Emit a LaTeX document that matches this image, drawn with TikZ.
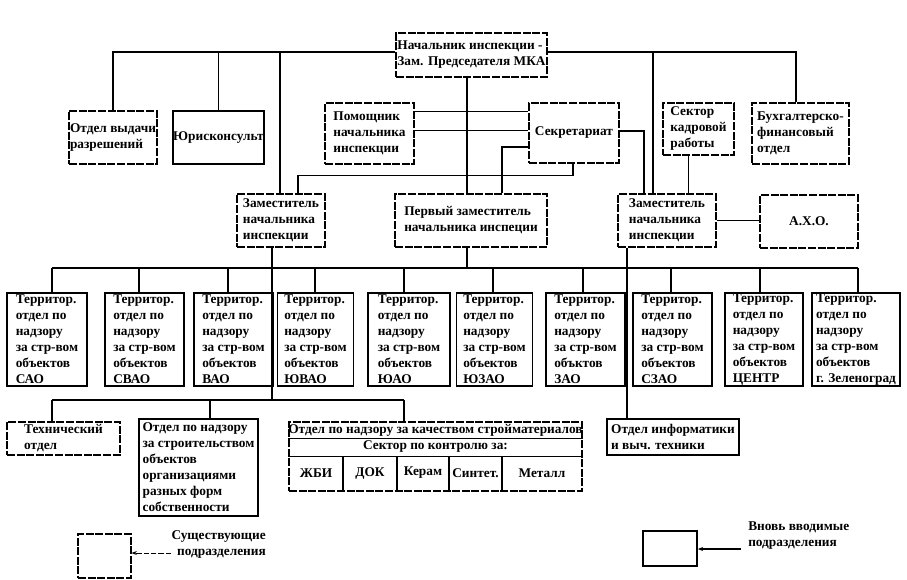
\documentclass[tikz,border=0pt]{standalone}
\usepackage{fontspec}
\setmainfont{Liberation Serif}
\usetikzlibrary{arrows.meta,calc}
\newcommand\terrtxt[2]{Территор.\\отдел по\\надзору\\за стр-вом\\#1\\#2}
\begin{document}
\begin{tikzpicture}[x=0.75pt,y=-0.75pt,
  every node/.style={font=\fontsize{10}{12}\selectfont\bfseries, text=black},
  sz/.style 2 args={minimum width=#1*0.75pt, minimum height=#2*0.75pt},
  old/.style={draw, line width=0.8pt, dash pattern=on 6pt off 1.2pt, inner sep=0pt, align=left},
  new/.style={draw, line width=1.2pt, inner sep=0pt, align=left},
  terr/.style={new, minimum height=93*0.75pt},
  wire/.style={line width=1.05pt},
  tip/.style={-{Stealth[length=4pt,width=3pt]}}]
\useasboundingbox (0,0) rectangle (907,579);
\fill[white] (0,0) rectangle (907,579);

% top level
\node[old,sz={151}{44}] (head) at (471.5,55) {Начальник инспекции -\\Зам. Председателя МКА};
\node[old,sz={88}{53}] (vyd) at (113,137.5) {Отдел выдачи\\разрешений};
\node[new,sz={89}{53}] (yur) at (218.5,137.5) {Юрисконсульт};
\node[old,sz={89}{61}] (pom) at (369.5,133.5) {Помощник\\начальника\\инспекции};
\node[old,sz={90}{60}] (sekr) at (574,133) {Секретариат};
\node[old,sz={71}{52}] (kadr) at (698.5,129) {Сектор\\кадровой\\работы};
\node[old,sz={97}{61}] (buh) at (800.5,133.5) {Бухгалтерско-\\финансовый\\отдел};

% deputies
\node[old,sz={88}{53}] (zamL) at (281,220.5) {Заместитель\\начальника\\инспекции};
\node[old,sz={152}{53}] (first) at (471,220.5) {Первый заместитель\\начальника инспеции};
\node[old,sz={98}{53}] (zamR) at (667,220.5) {Заместитель\\начальника\\инспекции};
\node[old,sz={98}{53}] (axo) at (809,221.5) {А.Х.О.};

% territorial departments
\node[terr,minimum width=80*0.75pt] (t1) at (47,339.5) {\terrtxt{объектов}{САО}};
\node[terr,minimum width=79*0.75pt] (t2) at (144.5,339.5) {\terrtxt{объектов}{СВАО}};
\node[terr,minimum width=79*0.75pt] (t3) at (233.5,339.5) {\terrtxt{объектов}{ВАО}};
\node[terr,minimum width=76*0.75pt] (t4) at (315.5,339.5) {\terrtxt{объектов}{ЮВАО}};
\node[terr,minimum width=82*0.75pt] (t5) at (409,339.5) {\terrtxt{объектов}{ЮАО}};
\node[terr,minimum width=76*0.75pt] (t6) at (494.5,339.5) {\terrtxt{объектов}{ЮЗАО}};
\node[terr,minimum width=79*0.75pt] (t7) at (585.5,339.5) {\terrtxt{объктов}{ЗАО}};
\node[terr,minimum width=79*0.75pt] (t8) at (672.5,339.5) {\terrtxt{объектов}{СЗАО}};
\node[terr,minimum width=78*0.75pt] (t9) at (764,339.5) {\terrtxt{объектов}{ЦЕНТР}};
\node[terr,minimum width=88*0.75pt] (t10) at (856,339.5) {\terrtxt{объектов}{г. Зеленоград}};

% bottom level
\node[old,sz={113}{33}] (tech) at (63.5,438.5) {Технический\\отдел};
\node[new,sz={119}{97}] (nadz) at (198.5,467.5) {Отдел по надзору\\за строительством\\объектов\\организациями\\разных форм\\собственности};
\node[old,sz={293}{69}] (stroy) at (435.5,456.5) {};
\node (st1) at (435.5,432) {\underline{Отдел по надзору за качеством стройматериалов}};
\node (st2) at (435.5,446) {Сектор по контролю за:};
\draw[wire] (stroy.west) -- (stroy.east);
\foreach \x in {343,397,449,502} \draw[wire] (\x,456.5) -- (\x,491);
\node (c1) at (316,473) {ЖБИ};
\node (c2) at (370,473) {ДОК};
\node (c3) at (423,473) {Керам};
\node (c4) at (475.5,473) {Синтет.};
\node (c5) at (542,473) {Металл};
\node[new,sz={132}{36}] (info) at (673,437) {Отдел информатики\\и выч. техники};

% legend
\node[old,sz={53}{44}] (legE) at (104.5,556) {};
\node[new,sz={54}{35}] (legN) at (670,548.5) {};
\node[align=right, anchor=east, inner sep=0pt] (legEt) at (266,544.5) {Существующие\\подразделения};
\node[align=left, anchor=west, inner sep=0pt] (legNt) at (748,535.5) {Вновь вводимые\\подразделения};
\coordinate (la) at (171,553);
\draw[line width=0.7pt, dash pattern=on 4pt off 1.5pt, tip] (la) -- (la -| legE.east);
\coordinate (ra) at (741,549);
\draw[wire, tip] (ra) -- (ra -| legN.east);

% connectors from the head
\coordinate (hl) at ($(head.west)+(0,-3)$);
\coordinate (hr) at ($(head.east)+(0,-3)$);
\draw[wire] (vyd.north) |- (hl);
\draw[wire] (yur.north) -- (yur.north |- hl);
\coordinate (zl1) at ($(zamL.north)+(-1,0)$);
\draw[wire] (zl1) -- (zl1 |- hl);
\draw[wire] (hr) -| ($(buh.north)+(-4.5,0)$);
\coordinate (zr1) at ($(zamR.north)+(-14,0)$);
\draw[wire] (zr1) -- (zr1 |- hr);
\coordinate (hs) at ($(head.south)+(-4.5,0)$);
\draw[wire] (hs) -- (hs |- first.north);

% assistant and secretariat
\coordinate (p1) at ($(pom.east)+(0,-22)$);
\draw[wire] (p1) -- (p1 -| sekr.west);
\coordinate (p2) at ($(pom.east)+(0,-3)$);
\draw[wire] (p2) -- (p2 -| sekr.west);
\coordinate (s1) at ($(sekr.west)+(0,14)$);
\draw[wire] (s1) -| ($(first.north)+(31,0)$);
\coordinate (s2) at ($(sekr.south)+(-1,0)$);
\draw[wire] (s2) -- ++(0,12) -| ($(zamL.north)+(17,0)$);
\coordinate (s3) at ($(sekr.east)+(0,-2)$);
\draw[wire] (s3) -| ($(zamR.north)+(-23,0)$);
\coordinate (ks) at ($(kadr.south)+(-10,0)$);
\draw[wire] (ks) -- (ks |- zamR.north);
\draw[wire] (zamR.east) -- (zamR.east -| axo.west);

% bus to territorial departments
\coordinate (v1) at (52,268);
\coordinate (v2) at (139,268);
\coordinate (v3) at (228,268);
\coordinate (v4) at (315,268);
\coordinate (v5) at (404,268);
\coordinate (v6) at (493,268);
\coordinate (v7) at (583,268);
\coordinate (v8) at (671,268);
\coordinate (v9) at (760,268);
\coordinate (v10) at (858,268);
\draw[wire] (v1) -- (v10);
\foreach \i in {1,...,10} \draw[wire] (v\i) -- (v\i |- t\i.north);
\coordinate (f2) at ($(first.south)+(-4,0)$);
\draw[wire] (f2) -- (f2 |- v1);

% lower bus
\coordinate (w1) at (52,400);
\coordinate (w2) at (210,400);
\coordinate (w3) at (404,400);
\coordinate (zl2) at ($(zamL.south)+(-9,0)$);
\draw[wire] (zl2) -- (zl2 |- w1);
\draw[wire] (w1) -- (w3);
\draw[wire] (w1) -- (w1 |- tech.north);
\draw[wire] (w2) -- (w2 |- nadz.north);
\draw[wire] (w3) -- (w3 |- stroy.north);
\coordinate (zr2) at ($(zamR.south)+(-40,0)$);
\draw[wire] (zr2) -- (zr2 |- info.north);
\end{tikzpicture}
\end{document}
